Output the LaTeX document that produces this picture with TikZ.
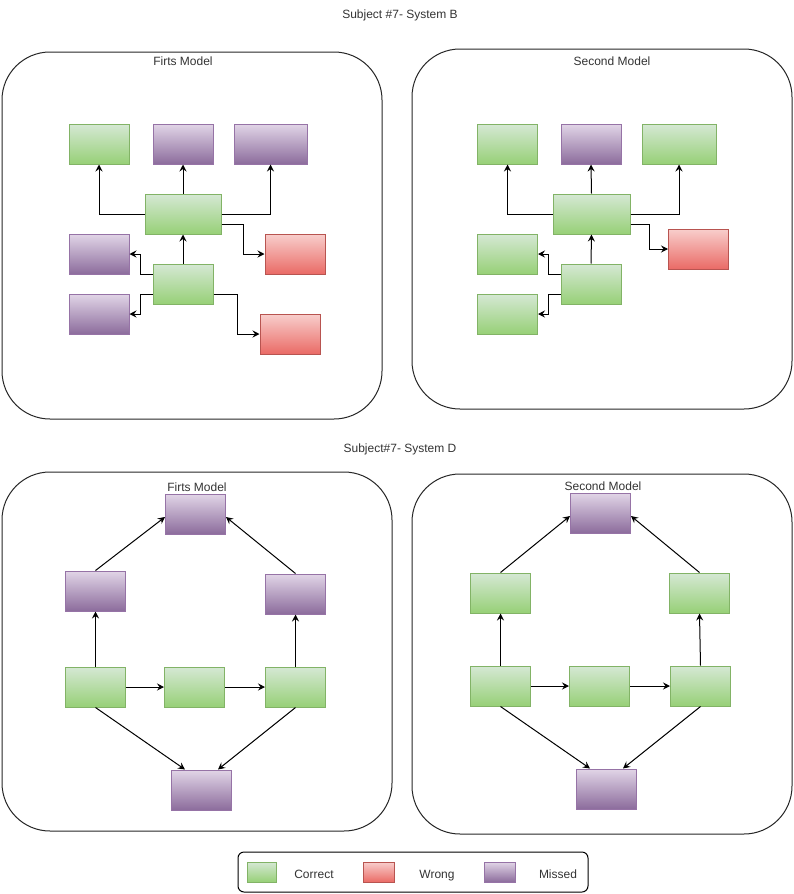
\documentclass[tikz,border=0pt]{standalone}
\usepackage{fontspec}
\setmainfont{Liberation Sans}
\usetikzlibrary{arrows.meta}
\definecolor{gstroke}{HTML}{82B366}
\definecolor{gtop}{HTML}{D5E8D4}
\definecolor{gbot}{HTML}{97D077}
\definecolor{pstroke}{HTML}{9673A6}
\definecolor{ptop}{HTML}{E1D5E7}
\definecolor{pbot}{HTML}{8C6C9C}
\definecolor{rstroke}{HTML}{B85450}
\definecolor{rtop}{HTML}{F8CECC}
\definecolor{rbot}{HTML}{EA6B66}
\definecolor{txt}{HTML}{333333}
\tikzset{
  basebox/.style={draw, line width=1pt, inner sep=0pt, minimum width=60pt, minimum height=40pt},
  gbox/.style={basebox, draw=gstroke, top color=gtop, bottom color=gbot},
  pbox/.style={basebox, draw=pstroke, top color=ptop, bottom color=pbot},
  rbox/.style={basebox, draw=rstroke, top color=rtop, bottom color=rbot},
  panel/.style={draw=black!85, line width=1pt, rounded corners=48pt},
  arr/.style={draw=black, line width=1pt, -{Stealth[length=7pt,width=7pt,inset=2.5pt]}},
  lbl/.style={text=txt, font=\fontsize{12}{14}\selectfont, inner sep=0pt, anchor=base},
}
\begin{document}
\begin{tikzpicture}[x=1pt,y=-1pt]
\useasboundingbox (0,0) rectangle (793,894);
% titles
\node[lbl] (t1) at (400,18) {Subject \#7- System B};
\node[lbl] (t2) at (400,452) {Subject\#7- System D};

% ===== top-left panel =====
\draw[panel] (2,52) rectangle (382,419);
\node[lbl] (tl) at (183,65) {Firts Model};
\node[gbox] (a1) at (99,144) {};
\node[pbox] (a2) at (183,144) {};
\node[pbox, minimum width=73pt] (a3) at (270.5,144) {};
\node[gbox, minimum width=76pt] (c1) at (183,214) {};
\node[pbox] (l1) at (99,254) {};
\node[rbox] (r1) at (295,254) {};
\node[gbox] (c2) at (183,284) {};
\node[pbox] (l2) at (99,314) {};
\node[rbox] (r2) at (290,334) {};
\draw[arr] (c1.west) -| (a1.south);
\draw[arr] (c1.north) -- (a2.south);
\draw[arr] (c1.east) -| (a3.south);
\draw[arr] ([yshift=-10pt]c1.east) -- ++(22,0) |- (r1.west);
\draw[arr] (c2.north) -- (c1.south);
\draw[arr] ([yshift=10pt]c2.west) -- ++(-12,0) |- (l1.east);
\draw[arr] ([yshift=-10pt]c2.west) -- ++(-12,0) |- (l2.east);
\draw[arr] ([yshift=-10pt]c2.east) -- ++(24,0) |- (r2.west);

% ===== top-right panel =====
\draw[panel] (412,49) rectangle (792,409);
\node[lbl] (tr) at (612,65) {Second Model};
\node[gbox] (b1) at (507.5,144) {};
\node[pbox] (b2) at (591,144) {};
\node[gbox, minimum width=74pt] (b3) at (679,144) {};
\node[gbox, minimum width=77pt] (bc1) at (591.5,214) {};
\node[rbox] (br1) at (698.5,249) {};
\node[gbox] (bl1) at (507.5,254) {};
\node[gbox] (bc2) at (591,284) {};
\node[gbox] (bl2) at (507.5,314) {};
\draw[arr] (bc1.west) -| (b1.south);
\draw[arr] (bc1.north) -- (b2.south);
\draw[arr] (bc1.east) -| (b3.south);
\draw[arr] ([yshift=-10pt]bc1.east) -- ++(19,0) |- (br1.west);
\draw[arr] (bc2.north) -- (bc1.south);
\draw[arr] ([yshift=10pt]bc2.west) -- ++(-12,0) |- (bl1.east);
\draw[arr] ([yshift=-10pt]bc2.west) -- ++(-12,0) |- (bl2.east);

% ===== bottom-left panel =====
\draw[panel] (2,472) rectangle (392,831);
\node[lbl] (bll) at (197,491) {Firts Model};
\node[pbox] (dt) at (195.5,514) {};
\node[pbox] (dl) at (95.5,591) {};
\node[pbox] (dr) at (295.5,594) {};
\node[gbox] (d1) at (95.5,687) {};
\node[gbox] (d2) at (194.5,687) {};
\node[gbox] (d3) at (295.5,687) {};
\node[pbox] (db) at (201.5,790) {};
\draw[arr] (dl.north) -- ([yshift=-3pt]dt.west);
\draw[arr] (dr.north) -- ([yshift=-3pt]dt.east);
\draw[arr] (d1.north) -- (dl.south);
\draw[arr] (d3.north) -- (dr.south);
\draw[arr] (d1.east) -- (d2.west);
\draw[arr] (d2.east) -- (d3.west);
\draw[arr] (d1.south) -- ([xshift=-16.5pt]db.north);
\draw[arr] (d3.south) -- ([xshift=16.5pt]db.north);

% ===== bottom-right panel =====
\draw[panel] (412,474) rectangle (792,834);
\node[lbl] (brl) at (603,490) {Second Model};
\node[pbox] (et) at (600.5,513) {};
\node[gbox] (el) at (500.5,593) {};
\node[gbox] (er) at (699.5,593) {};
\node[gbox] (e1) at (500.5,686) {};
\node[gbox] (e2) at (599.5,686) {};
\node[gbox] (e3) at (700.5,686) {};
\node[pbox] (eb) at (606.5,789) {};
\draw[arr] (el.north) -- ([yshift=-3pt]et.west);
\draw[arr] (er.north) -- ([yshift=-3pt]et.east);
\draw[arr] (e1.north) -- (el.south);
\draw[arr] (e3.north) -- (er.south);
\draw[arr] (e1.east) -- (e2.west);
\draw[arr] (e2.east) -- (e3.west);
\draw[arr] (e1.south) -- ([xshift=-16.5pt]eb.north);
\draw[arr] (e3.south) -- ([xshift=16.5pt]eb.north);

% ===== legend =====
\draw[draw=black, line width=1pt, rounded corners=6pt] (238,852) rectangle (588,892);
\node[gbox, minimum width=29pt, minimum height=20pt] (lg) at (261.5,872) {};
\node[lbl] (lgt) at (314,878) {Correct};
\node[rbox, minimum width=31pt, minimum height=20pt] (lr) at (378.5,872) {};
\node[lbl] (lrt) at (437,878) {Wrong};
\node[pbox, minimum width=31pt, minimum height=20pt] (lp) at (499.5,872) {};
\node[lbl] (lpt) at (558,878) {Missed};
\end{tikzpicture}
\end{document}
